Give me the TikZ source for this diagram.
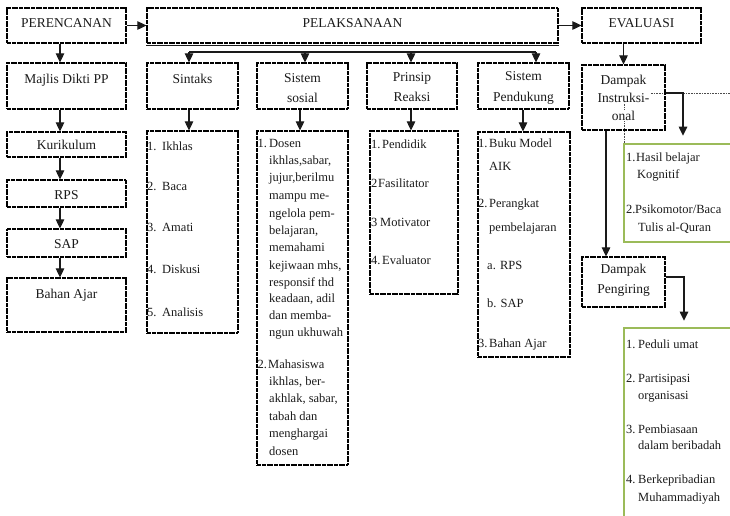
\documentclass[tikz,border=0pt]{standalone}
\usepackage{fontspec}
\setmainfont{Liberation Serif}
\usetikzlibrary{arrows.meta}
\definecolor{olv}{HTML}{9BBB59}
\definecolor{ink}{HTML}{1A1A1A}
\newcommand\numbx[2][11pt]{\makebox[#1][l]{#2}}
\begin{document}
\begin{tikzpicture}[x=1pt,y=-1pt,
  bx/.style={draw=black, line width=1.2pt, dash pattern=on 2pt off 0.4pt, inner sep=0pt},
  gbx/.style={draw=olv, line width=2.6pt, inner sep=0pt},
  arr/.style={draw=ink, line width=1.1pt, -{Triangle[width=8.5pt,length=9pt]}},
  plainln/.style={draw=ink, line width=1.1pt},
  dotln/.style={draw=black!70, line width=0.6pt, dash pattern=on 0.8pt off 0.8pt},
  hd/.style={font=\fontsize{13.5}{16}\selectfont, anchor=base, inner sep=0pt, text=ink},
  it/.style={font=\fontsize{12.5}{15}\selectfont, anchor=base west, inner sep=0pt, text=ink},
]
\useasboundingbox (0,0) rectangle (730,515);

% dotted frame lines
\coordinate (dr) at (730,93);
\coordinate (dl) at (624,93);
\coordinate (dd) at (624,144);
\draw[dotln] (dr) -- (dl) -- (dd);

% boxes
\node[bx, minimum width=119pt, minimum height=35pt] (per) at (66.5,25.5) {};
\node[bx, minimum width=411pt, minimum height=35pt] (pel) at (352.5,25.5) {};
\draw[ink, line width=0.8pt] ([yshift=-1.6pt]pel.south west) -- ([yshift=-1.6pt]pel.south east);
\node[bx, minimum width=119pt, minimum height=35pt] (eva) at (641.5,25.5) {};
\node[bx, minimum width=119pt, minimum height=46pt] (maj) at (66.5,86) {};
\node[bx, minimum width=91pt, minimum height=46pt] (sin) at (192.5,86) {};
\node[bx, minimum width=91pt, minimum height=46pt] (sos) at (302.5,86) {};
\node[bx, minimum width=90pt, minimum height=46pt] (pri) at (412,86) {};
\node[bx, minimum width=91pt, minimum height=46pt] (pen) at (523.5,86) {};
\node[bx, minimum width=83pt, minimum height=65pt] (di) at (623.5,97.5) {};
\node[bx, minimum width=119pt, minimum height=25pt] (kur) at (66.5,144.5) {};
\node[bx, minimum width=119pt, minimum height=27pt] (rps) at (66.5,193.5) {};
\node[bx, minimum width=119pt, minimum height=28pt] (sap) at (66.5,243) {};
\node[bx, minimum width=119pt, minimum height=54pt] (baj) at (66.5,305) {};
\node[bx, minimum width=91pt, minimum height=202pt] (sinl) at (192.5,232) {};
\node[bx, minimum width=91pt, minimum height=334pt] (sosl) at (302.5,298) {};
\node[bx, minimum width=88pt, minimum height=163pt] (pril) at (414,212.5) {};
\node[bx, minimum width=92pt, minimum height=225pt] (penl) at (524,244.5) {};
\node[bx, minimum width=83pt, minimum height=50pt] (dp) at (623.5,282) {};
\node[gbx, minimum width=116pt, minimum height=98pt] (hb) at (682,193) {};
\node[gbx, minimum width=116pt, minimum height=202pt] (pl) at (682,429) {};

% header texts
\node[hd] (tper) at (66.5,27.5) {PERENCANAN};
\node[hd] (tpel) at (352.5,27.5) {PELAKSANAAN};
\node[hd] (teva) at (641.5,27.5) {EVALUASI};
\node[hd] (tmaj) at (66.5,83) {Majlis Dikti PP};
\node[hd] (tsin) at (192.5,83) {Sintaks};
\node[hd] (tsos1) at (302.5,82) {Sistem};
\node[hd] (tsos2) at (302.5,102) {sosial};
\node[hd] (tpri1) at (412,81) {Prinsip};
\node[hd] (tpri2) at (412,101) {Reaksi};
\node[hd] (tpen1) at (523.5,80) {Sistem};
\node[hd] (tpen2) at (523.5,101) {Pendukung};
\node[hd, fill=white, inner sep=1pt] (tdi1) at (623.5,84) {Dampak};
\node[hd, fill=white, inner sep=1pt] (tdi2) at (623.5,102) {Instruksi-};
\node[hd, fill=white, inner sep=1pt] (tdi3) at (623.5,120) {onal};
\node[hd] (tdp1) at (623.5,273) {Dampak};
\node[hd] (tdp2) at (623.5,293) {Pengiring};
\node[hd] (tkur) at (66.5,149) {Kurikulum};
\node[hd] (trps) at (66.5,199) {RPS};
\node[hd] (tsap) at (66.5,248) {SAP};
\node[hd] (tbaj) at (66.5,298) {Bahan Ajar};

% Sintaks list
\node[it] (s1) at (147,150) {\numbx[15pt]{1.}Ikhlas};
\node[it] (s2) at (147,190) {\numbx[15pt]{2.}Baca};
\node[it] (s3) at (147,231) {\numbx[15pt]{3.}Amati};
\node[it] (s4) at (147,273) {\numbx[15pt]{4.}Diskusi};
\node[it] (s5) at (147,316) {\numbx[15pt]{5.}Analisis};

% Sistem sosial list
\node[it] (sn1) at (257.5,147) {1.};
\node[it] (sn2) at (257.5,368) {2.};
\foreach \px/\py/\t [count=\i] in {
  269/147/Dosen, 269/164/{ikhlas,sabar,}, 269/181/{jujur,berilmu},
  269/199/{mampu me-}, 269/217/{ngelola pem-}, 269/234/{belajaran,},
  269/251/memahami, 269/269/{kejiwaan mhs,}, 269/286/{responsif thd},
  269/302/{keadaan, adil}, 269/319/{dan memba-}, 269/336/{ngun ukhuwah},
  268/368/Mahasiswa, 269/385/{ikhlas, ber-}, 269/402/{akhlak, sabar,},
  269/420/{tabah dan}, 269/437/menghargai, 269/455/dosen}
  \node[it] (so\i) at (\px,\py) {\t};

% Prinsip Reaksi list
\node[it] (p1) at (371,148) {\numbx{1.}Pendidik};
\node[it] (p2) at (371,187) {\numbx[7pt]{2}Fasilitator};
\node[it] (p3) at (371,226) {\numbx[9pt]{3}Motivator};
\node[it] (p4) at (371,264) {\numbx{4.}Evaluator};

% Sistem Pendukung list
\node[it] (q1) at (478,147) {\numbx{1.}Buku Model};
\node[it] (q2) at (489,170) {AIK};
\node[it] (q3) at (478,207) {\numbx{2.}Perangkat};
\node[it] (q4) at (489,231) {pembelajaran};
\node[it] (q5) at (487,269) {a. RPS};
\node[it] (q6) at (487,307) {b. SAP};
\node[it] (q7) at (478,347) {\numbx{3.}Bahan Ajar};

% Hasil belajar
\node[it] (h1) at (626,161) {\numbx[10pt]{1.}Hasil belajar};
\node[it] (h2) at (637,178) {Kognitif};
\node[it] (h3) at (626,213) {\numbx[9pt]{2.}Psikomotor/Baca};
\node[it] (h4) at (638,231) {Tulis al-Quran};

% Dampak pengiring list
\node[it] (g1) at (626,348) {\numbx[12pt]{1.}Peduli umat};
\node[it] (g2) at (626,382) {\numbx[12pt]{2.}Partisipasi};
\node[it] (g3) at (638,399) {organisasi};
\node[it] (g4) at (626,433) {\numbx[12pt]{3.}Pembiasaan};
\node[it] (g5) at (638,449) {dalam beribadah};
\node[it] (g6) at (626,483) {\numbx[12pt]{4.}Berkepribadian};
\node[it] (g7) at (638,501) {Muhammadiyah};

% connectors
\coordinate (lc) at (60,0);
\draw[arr] (per.east) -- (pel.west);
\draw[arr] (pel.east) -- (eva.west);
\draw[arr] (per.south -| lc) -- (maj.north -| lc);
\draw[arr] (maj.south -| lc) -- (kur.north -| lc);
\draw[arr] (kur.south -| lc) -- (rps.north -| lc);
\draw[arr] (rps.south -| lc) -- (sap.north -| lc);
\draw[arr] (sap.south -| lc) -- (baj.north -| lc);

\coordinate (b1) at (189,52);
\coordinate (b2) at (305,52);
\coordinate (b3) at (411,52);
\coordinate (b4) at (536,52);
\draw[plainln] (b1) -- (b4);
\draw[arr] (b1) -- (b1 |- sin.north);
\draw[arr] (b2) -- (b2 |- sos.north);
\draw[arr] (b3) -- (b3 |- pri.north);
\draw[arr] (b4) -- (b4 |- pen.north);

\coordinate (c1) at (189,0);
\coordinate (c2) at (300,0);
\coordinate (c3) at (411,0);
\coordinate (c4) at (523,0);
\draw[arr] (sin.south -| c1) -- (sinl.north -| c1);
\draw[arr] (sos.south -| c2) -- (sosl.north -| c2);
\draw[arr] (pri.south -| c3) -- (pril.north -| c3);
\draw[arr] (pen.south -| c4) -- (penl.north -| c4);

\draw[arr] (eva.south -| di.north) -- (di.north);
\coordinate (d1) at (606,0);
\draw[arr] (di.south -| d1) -- (dp.north -| d1);
\coordinate (r1) at (683,93);
\draw[arr, shorten >=7pt] (r1 -| di.east) -- (r1) -- (r1 |- hb.north);
\coordinate (r2) at (684,277);
\draw[arr, shorten >=6pt] (r2 -| dp.east) -- (r2) -- (r2 |- pl.north);
\end{tikzpicture}
\end{document}
